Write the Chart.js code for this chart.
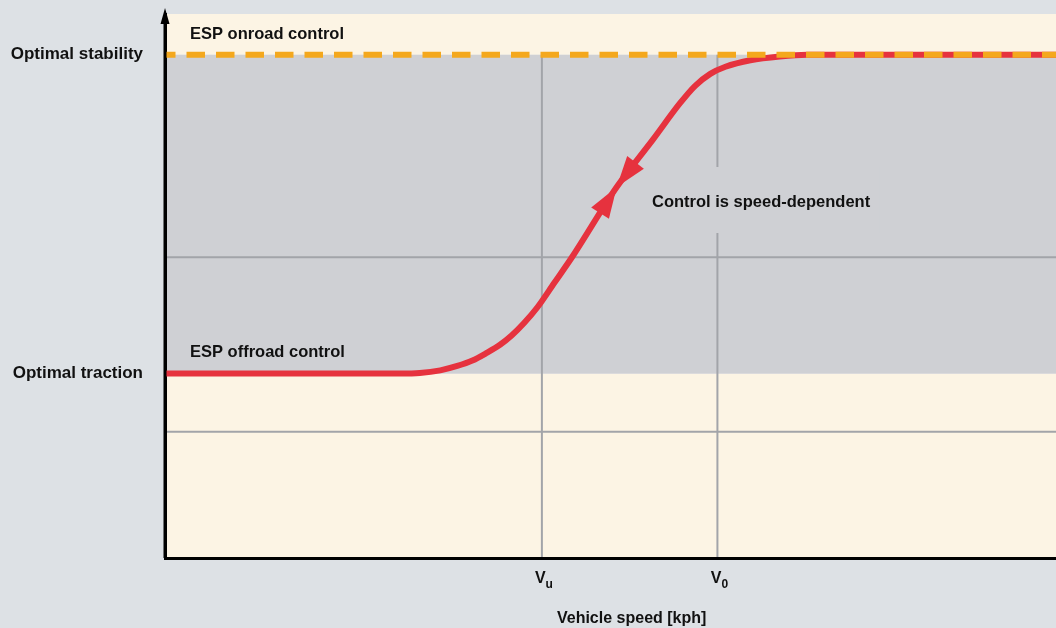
<!DOCTYPE html>
<html lang="en">
<head>
  <meta charset="UTF-8"/>
  <title>ESP control vs vehicle speed</title>
  <style>
    body { margin: 0; background: #dde1e5; }
    .wrap { width: 1056px; height: 628px; position: relative; }
  </style>
  <script src="https://cdn.jsdelivr.net/npm/chart.js"></script>
</head>
<body>
  <div class="wrap"><canvas id="chart"></canvas></div>
  <script>
    // --- data (x: 0..100 speed, y: 0..100 control) ---
    const speed   = [0, 15.2, 26.4, 28.6, 30.9, 32.8, 34.5, 36.1, 37.6, 38.9, 40.3, 41.8, 43.7, 45.6, 50.7, 54.8, 57.8, 59.5, 61.2, 62.9, 65.7, 69.0, 72.1, 100];
    const control = [33.9, 33.9, 33.9, 34.0, 34.5, 35.3, 36.3, 37.7, 39.2, 40.9, 43.2, 46.1, 50.6, 55.1, 68.2, 77.0, 83.6, 86.8, 89.0, 90.3, 91.5, 92.2, 92.5, 92.5];
    const arrowIndex = 14;             // where the two arrow heads meet

    const yTickValues = [33.9, 92.5];
    const yTickLabels = ['Optimal traction', 'Optimal stability'];
    const xTickValues = [42.3, 62.0];
    const xTickSubs   = ['u', '0'];
    const hGrid = [23.2, 55.3];
    const xTitle = 'Vehicle speed [kph]';

    const FONT = "'Liberation Sans', Arial, sans-serif";
    const RED = '#e6323e', ORANGE = '#f4a81d';
    const CREAM = '#fcf4e4', GRAY = '#cfd0d4', GRID = '#a2a4a9';

    const decor = {
      id: 'decor',
      beforeDraw(chart) {
        const {ctx, chartArea: a, scales: {x, y}} = chart;
        const yStab = y.getPixelForValue(yTickValues[1]);
        const yTrac = y.getPixelForValue(yTickValues[0]);
        ctx.save();
        // bands
        ctx.fillStyle = CREAM;
        ctx.fillRect(a.left, a.top, a.right - a.left, yStab - a.top);
        ctx.fillRect(a.left, yTrac, a.right - a.left, a.bottom - yTrac);
        ctx.fillStyle = GRAY;
        ctx.fillRect(a.left, yStab, a.right - a.left, yTrac - yStab);
        // grid
        ctx.strokeStyle = GRID; ctx.lineWidth = 2;
        hGrid.forEach(v => {
          const py = y.getPixelForValue(v);
          ctx.beginPath(); ctx.moveTo(a.left, py); ctx.lineTo(a.right, py); ctx.stroke();
        });
        xTickValues.forEach(v => {
          const px = x.getPixelForValue(v);
          ctx.beginPath(); ctx.moveTo(px, yStab); ctx.lineTo(px, a.bottom); ctx.stroke();
        });
        // labels
        ctx.font = 'bold 16.5px ' + FONT;
        ctx.textBaseline = 'alphabetic';
        ctx.textAlign = 'left';
        ctx.fillStyle = '#111';
        ctx.fillText('ESP onroad control', a.left + 25, yStab - 16);
        ctx.fillText('ESP offroad control', a.left + 25, yTrac - 16.5);
        const txt = 'Control is speed-dependent';
        const w = ctx.measureText(txt).width;
        ctx.fillStyle = GRAY;
        ctx.fillRect(645, 167, w + 16, 66);
        ctx.fillStyle = '#111';
        ctx.fillText(txt, 652, 207);
        ctx.restore();
      },
      afterDatasetsDraw(chart) {
        const {ctx} = chart;
        const pts = chart.getDatasetMeta(1).data;
        const tip = pts[arrowIndex];
        const head = (from, len, half) => {
          const dx = tip.x - from.x, dy = tip.y - from.y;
          const d = Math.hypot(dx, dy), ux = dx / d, uy = dy / d;
          const bx = tip.x - ux * len, by = tip.y - uy * len;
          ctx.beginPath();
          ctx.moveTo(tip.x, tip.y);
          ctx.lineTo(bx - uy * half, by + ux * half);
          ctx.lineTo(bx + uy * half, by - ux * half);
          ctx.closePath();
          ctx.fill();
        };
        ctx.save();
        ctx.fillStyle = RED;
        head(pts[arrowIndex - 1], 31, 10.5);
        head(pts[arrowIndex + 1], 31, 10.5);
        ctx.restore();
      },
      afterDraw(chart) {
        const {ctx, chartArea: a, scales: {x}} = chart;
        ctx.save();
        // y axis arrow
        ctx.fillStyle = '#000'; ctx.strokeStyle = '#000'; ctx.lineWidth = 3;
        ctx.beginPath(); ctx.moveTo(a.left, a.bottom); ctx.lineTo(a.left, 20); ctx.stroke();
        ctx.beginPath();
        ctx.moveTo(a.left, 8); ctx.lineTo(a.left - 4.5, 24); ctx.lineTo(a.left + 4.5, 24);
        ctx.closePath(); ctx.fill();
        // x tick labels with subscripts
        ctx.fillStyle = '#111';
        ctx.textBaseline = 'alphabetic';
        ctx.textAlign = 'left';
        xTickValues.forEach((v, i) => {
          const px = x.getPixelForValue(v) + 2;
          ctx.font = 'bold 16px ' + FONT;
          const wv = ctx.measureText('V').width;
          ctx.font = 'bold 12px ' + FONT;
          const ws = ctx.measureText(xTickSubs[i]).width;
          const left = px - (wv + ws) / 2;
          ctx.font = 'bold 16px ' + FONT;
          ctx.fillText('V', left, 583);
          ctx.font = 'bold 12px ' + FONT;
          ctx.fillText(xTickSubs[i], left + wv, 587.5);
        });
        // axis title, centred between the two speed marks
        ctx.font = 'bold 16px ' + FONT;
        ctx.textAlign = 'center';
        const cx = (x.getPixelForValue(xTickValues[0]) + x.getPixelForValue(xTickValues[1])) / 2;
        ctx.fillText(xTitle, cx + 2, 623);
        ctx.restore();
      }
    };

    new Chart(document.getElementById('chart'), {
      type: 'line',
      data: {
        datasets: [
          {
            label: 'ESP onroad control',
            data: [{x: 0, y: yTickValues[1]}, {x: 100, y: yTickValues[1]}],
            borderColor: ORANGE, borderWidth: 6, borderDash: [18.5, 11], borderDashOffset: 8,
            pointRadius: 0, order: 0
          },
          {
            label: 'Control',
            data: speed.map((s, i) => ({x: s, y: control[i]})),
            borderColor: RED, borderWidth: 6, cubicInterpolationMode: 'monotone',
            borderJoinStyle: 'round', pointRadius: 0, order: 1
          }
        ]
      },
      options: {
        animation: false, responsive: true, maintainAspectRatio: false,
        layout: { padding: { top: 14, left: 0, right: 0, bottom: 0 }, autoPadding: false },
        plugins: { legend: { display: false }, tooltip: { enabled: false } },
        scales: {
          x: {
            type: 'linear', min: 0, max: 100, z: 1,
            grid: { display: false, drawTicks: false },
            border: { display: true, color: '#000', width: 3 },
            ticks: { display: false },
            afterBuildTicks: s => { s.ticks = xTickValues.map(v => ({value: v})); },
            afterFit: s => { s.height = 70; s.paddingLeft = 0; s.paddingRight = 0; }
          },
          y: {
            type: 'linear', min: 0, max: 100, z: 1,
            grid: { display: false, drawTicks: false },
            border: { display: true, color: '#000', width: 3 },
            ticks: {
              color: '#111', padding: 22,
              font: { family: FONT, size: 17, weight: 'bold' },
              callback: (v, i) => yTickLabels[i]
            },
            afterBuildTicks: s => { s.ticks = yTickValues.map(v => ({value: v})); },
            afterFit: s => { s.width = 165; s.paddingTop = 0; s.paddingBottom = 0; }
          }
        }
      },
      plugins: [decor]
    });
  </script>
</body>
</html>
